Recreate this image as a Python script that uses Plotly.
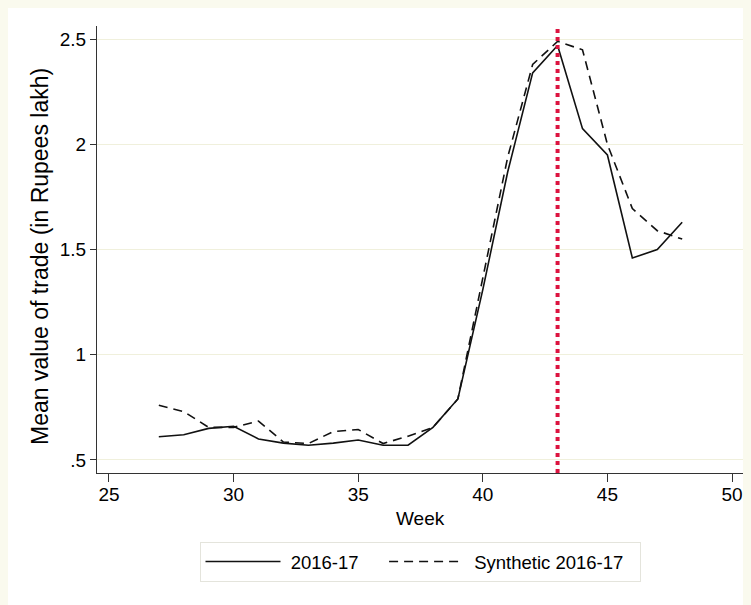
import plotly.graph_objects as go

weeks = list(range(27, 49))
actual = [0.61, 0.62, 0.65, 0.66, 0.60, 0.58, 0.57, 0.58, 0.595, 0.57, 0.57,
          0.655, 0.79, 1.31, 1.87, 2.34, 2.47, 2.075, 1.95, 1.46, 1.50, 1.63]
synthetic = [0.76, 0.73, 0.655, 0.655, 0.685, 0.585, 0.578, 0.635, 0.645, 0.578, 0.613,
             0.655, 0.79, 1.36, 1.94, 2.38, 2.49, 2.45, 2.00, 1.695, 1.59, 1.55]
event_week = 43
x_ticks = [25, 30, 35, 40, 45, 50]
y_ticks = [0.5, 1, 1.5, 2, 2.5]
y_ticktext = [".5", "1", "1.5", "2", "2.5"]
series_names = ["2016-17", "Synthetic 2016-17"]

# page is offset by the 8px body margin; figure fills the rest of the window
OFF = 8
W, H = 751 - OFF, 605 - OFF
L, R, T, B = 97 - OFF, 751 - 744, 26 - OFF, 605 - 473
pw, ph = W - L - R, H - T - B


def px_x(page_x):
    return (page_x - OFF - L) / pw


def px_y(page_y):
    return (H - B - (page_y - OFF)) / ph


FONT = "Liberation Sans, Arial, Helvetica, sans-serif"
NB = "\u00a0"  # spacing inside legend entries (Stata-like wide legend keys)

fig = go.Figure()
fig.add_trace(go.Scatter(x=weeks, y=actual, mode="lines",
                         name=NB + series_names[0] + NB * 4,
                         line=dict(color="#111111", width=1.6)))
fig.add_trace(go.Scatter(x=weeks, y=synthetic, mode="lines",
                         name=NB + series_names[1] + NB * 2,
                         line=dict(color="#111111", width=1.6, dash="9px,6px")))

fig.add_vline(x=event_week, line=dict(color="#dc1440", width=4, dash="4px,4px"))

fig.update_layout(
    width=W, height=H,
    margin=dict(l=L, r=R, t=T, b=B),
    paper_bgcolor="white",
    plot_bgcolor="white",
    font=dict(family=FONT, size=19, color="#000000"),
    showlegend=True,
    legend=dict(orientation="h", x=px_x(420), xanchor="center",
                y=px_y(542), yanchor="top",
                bordercolor="#e4e4dc", borderwidth=1, bgcolor="white",
                font=dict(size=18.5), itemwidth=75, tracegroupgap=0),
    xaxis=dict(range=[24.52, 50.48], tickvals=x_ticks, ticks="outside", ticklen=8,
               tickcolor="#333333", showline=True, linecolor="#333333", linewidth=1.3,
               showgrid=False, zeroline=False, tickfont=dict(size=19),
               ticklabelstandoff=-4),
    yaxis=dict(range=[0.438, 2.563], tickvals=y_ticks, ticktext=y_ticktext,
               ticks="outside", ticklen=6, tickcolor="#333333", showline=True,
               linecolor="#333333", linewidth=1.3, showgrid=True,
               gridcolor="#f0f0dc", gridwidth=1, zeroline=False, tickfont=dict(size=19)),
)

fig.add_annotation(text="Week", xref="paper", yref="paper",
                   x=px_x(420), y=px_y(518), showarrow=False,
                   xanchor="center", yanchor="middle", font=dict(size=19))
fig.add_annotation(text="Mean value of trade (in Rupees lakh)", xref="paper", yref="paper",
                   x=px_x(40), y=px_y(257), showarrow=False, textangle=-90,
                   xanchor="center", yanchor="middle", font=dict(size=23))

fig.write_html("out.html",
               post_script="document.body.style.background='#fafaee';")
